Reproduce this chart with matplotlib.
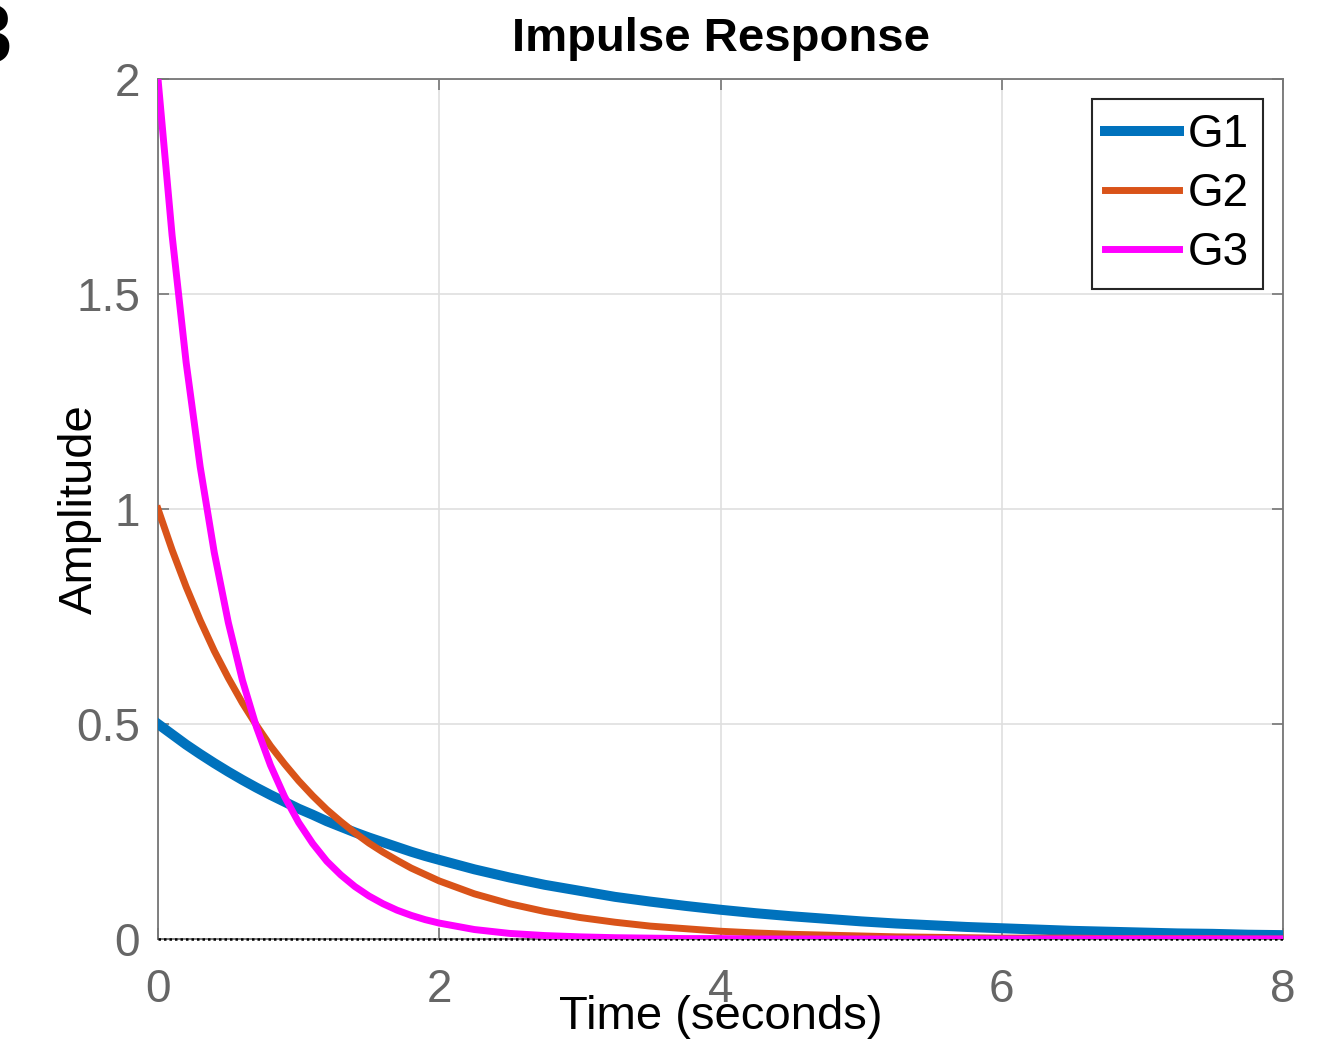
import numpy as np
import matplotlib
matplotlib.use("Agg")
from matplotlib import pyplot as plt

plt.rcParams['font.family'] = ['Liberation Sans', 'DejaVu Sans']

# values
time_s = [0.0, 0.1, 0.2, 0.3, 0.4, 0.5, 0.6, 0.7, 0.8, 0.9, 1.0,
          1.1, 1.2, 1.3, 1.4, 1.5, 1.6, 1.7, 1.8, 1.9, 2.0,
          2.25, 2.5, 2.75, 3.0, 3.25, 3.5, 3.75, 4.0, 4.25, 4.5, 4.75, 5.0,
          5.25, 5.5, 5.75, 6.0, 6.25, 6.5, 6.75, 7.0, 7.25, 7.5, 7.75, 8.0]

g1 = [0.500, 0.476, 0.452, 0.430, 0.409, 0.389, 0.370, 0.352, 0.335, 0.319, 0.303,
      0.289, 0.274, 0.261, 0.248, 0.236, 0.225, 0.214, 0.203, 0.193, 0.184,
      0.162, 0.143, 0.126, 0.112, 0.098, 0.087, 0.077, 0.068, 0.060, 0.053, 0.047, 0.041,
      0.036, 0.032, 0.028, 0.025, 0.022, 0.019, 0.017, 0.015, 0.013, 0.012, 0.010, 0.009]

g2 = [1.000, 0.905, 0.819, 0.741, 0.670, 0.607, 0.549, 0.497, 0.449, 0.407, 0.368,
      0.333, 0.301, 0.273, 0.247, 0.223, 0.202, 0.183, 0.165, 0.150, 0.135,
      0.105, 0.082, 0.064, 0.050, 0.039, 0.030, 0.024, 0.018, 0.014, 0.011, 0.009, 0.007,
      0.005, 0.004, 0.003, 0.002, 0.002, 0.002, 0.001, 0.001, 0.001, 0.001, 0.000, 0.000]

g3 = [2.000, 1.637, 1.341, 1.098, 0.899, 0.736, 0.602, 0.493, 0.404, 0.331, 0.271,
      0.222, 0.181, 0.149, 0.122, 0.100, 0.082, 0.067, 0.055, 0.045, 0.037,
      0.022, 0.013, 0.008, 0.005, 0.003, 0.002, 0.001, 0.001, 0.000, 0.000, 0.000, 0.000,
      0.000, 0.000, 0.000, 0.000, 0.000, 0.000, 0.000, 0.000, 0.000, 0.000, 0.000, 0.000]

x_ticks = [0, 2, 4, 6, 8]
y_ticks = [0, 0.5, 1, 1.5, 2]
y_tick_labels = ["0", "0.5", "1", "1.5", "2"]

fig = plt.figure(figsize=(13.32, 10.41), dpi=100)
ax = fig.add_axes([158/1332, 1 - 939/1041, 1125/1332, 860/1041])

# dotted zero line sits on top of the bottom spine
ax.axhline(0, color="black", ls=(0, (1, 1.2)), lw=1.8, zorder=2.6, clip_on=False)
ax.plot(time_s, g1, color="#0072BD", lw=7.2, label="G1", zorder=3)
ax.plot(time_s, g2, color="#D95319", lw=5, label="G2", zorder=4)
ax.plot(time_s, g3, color="#FF00FF", lw=5, label="G3", zorder=5)

ax.set_xlim(0, 8)
ax.set_ylim(0, 2)
ax.set_xticks(x_ticks)
ax.set_yticks(y_ticks)
ax.set_yticklabels(y_tick_labels)

ax.grid(True, color="#dfdfdf", lw=1.2)
ax.set_axisbelow(True)
for s in ax.spines.values():
    s.set_color("#767676")
    s.set_linewidth(1.3)
ax.tick_params(direction="in", length=8, width=1.2, color="#767676",
               top=True, right=True, labelsize=33, labelcolor="#666666")
ax.tick_params(axis="x", pad=21)
ax.tick_params(axis="y", pad=13)

ax.set_title("Impulse Response", fontsize=34, fontweight="bold", pad=20.5)
ax.set_xlabel("Time (seconds)", fontsize=34)
ax.xaxis.set_label_coords(0.5, -0.065)
ax.set_ylabel("Amplitude", fontsize=34)
ax.yaxis.set_label_coords(-0.050, 0.5)

leg = ax.legend(loc="upper right", fontsize=33, fancybox=False, framealpha=1,
                edgecolor="#262626", borderaxespad=0.44, handlelength=1.6,
                handletextpad=0.2, borderpad=0.3, labelspacing=0.33)
leg.get_frame().set_linewidth(1.5)

# cropped panel letter in the top-left corner
fig.text(-35/1332, 1 - 62/1041, "3", fontsize=60, fontweight="bold", va="baseline")

plt.savefig("out.png", dpi=100)
